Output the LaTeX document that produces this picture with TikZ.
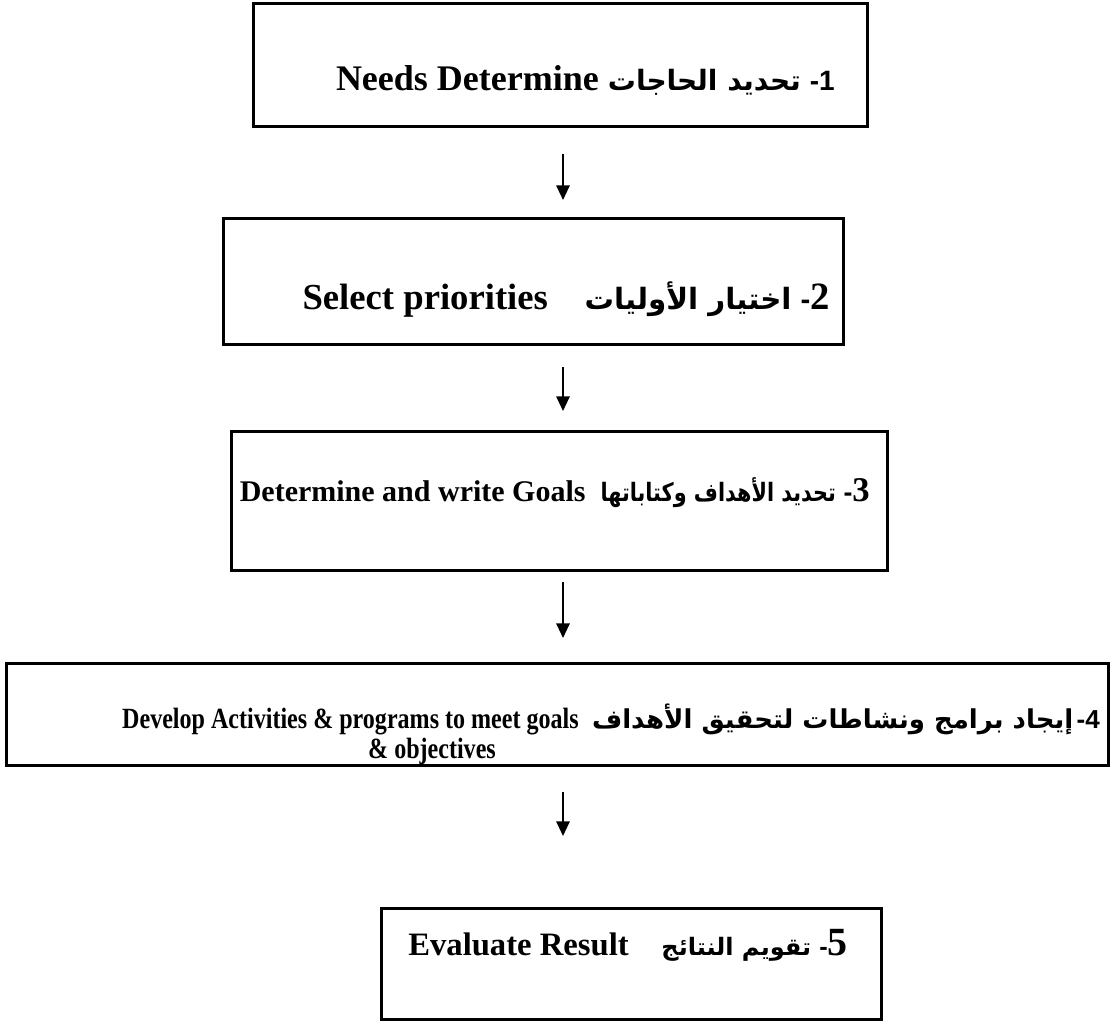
\documentclass[tikz,border=0pt]{standalone}
\usepackage{graphicx}
\usepackage{fontspec}
\setmainfont{Liberation Serif}
\newfontfamily\arabicfont[Script=Arabic]{DejaVu Sans}
\newfontfamily\numfont{Liberation Sans}
\TeXXeTstate=1
\usetikzlibrary{arrows.meta}
\newcommand{\ar}[1]{{\arabicfont\bfseries\beginR #1\endR}}
\newcommand{\fs}[1]{\fontsize{#1}{#1}\selectfont\bfseries}
\newcommand{\narrow}[2]{\scalebox{#1}[1]{#2}}

\begin{document}
\begin{tikzpicture}[x=0.75pt,y=0.75pt,yscale=-1,xscale=1,
  stepbox/.style={draw, line width=2pt, inner sep=0pt, anchor=north west},
  steptext/.style={anchor=east, inner sep=0pt},
  flow/.style={line width=1.5pt, -{Triangle[length=11pt,width=10pt]}}]
\useasboundingbox (0,0) rectangle (1113,1021);

%Shape: Rectangle [step 1]
\node[stepbox, minimum width=614*0.75pt, minimum height=123*0.75pt] (needs) at (252,2) {};
%Shape: Rectangle [step 2]
\node[stepbox, minimum width=620*0.75pt, minimum height=126*0.75pt] (prior) at (222,217) {};
%Shape: Rectangle [step 3]
\node[stepbox, minimum width=656*0.75pt, minimum height=139*0.75pt] (goals) at (230,430) {};
%Shape: Rectangle [step 4]
\node[stepbox, minimum width=1102*0.75pt, minimum height=102*0.75pt] (activ) at (5,662) {};
%Shape: Rectangle [step 5]
\node[stepbox, minimum width=500*0.75pt, minimum height=111*0.75pt] (evalu) at (380,907) {};

% Text Node
\node[steptext] (needstxt) at (835,80) {\fs{27}Needs Determine \ar{\fs{21}تحديد الحاجات} {\numfont\fs{21}-1}};
% Text Node
\node[steptext] (priortxt) at (830,300) {\fs{27.5}Select priorities\quad \ar{\fs{22}اختيار الأوليات} {\numfont\fs{22}-}{\fs{29}2}};
% Text Node
\node[steptext] (goalstxt) at (870,493) {\fs{22.5}Determine and write Goals\enspace \narrow{0.82}{\ar{\fs{19}تحديد الأهداف وكتاباتها}} {\numfont\fs{20}-}{\fs{26}3}};
% Text Node
\node[steptext] (activtxt) at (1100,719) {\narrow{0.82}{\fs{22}Develop Activities \& programs to meet goals}\quad \ar{\fs{19.5}إيجاد برامج ونشاطات لتحقيق الأهداف} {\numfont\fs{19.5}-4}};
\node[inner sep=0pt] (activtxt2) at (432,751) {\narrow{0.82}{\fs{22}\& objectives}};
% Text Node
\node[steptext] (evalutxt) at (848,945) {\fs{24.5}Evaluate Result\quad \ar{\fs{18}تقويم النتائج} {\numfont\fs{19}-}{\fs{30}5}};

%Straight Lines [arrows]
\coordinate (a1top) at (563,154);
\coordinate (a1bot) at (563,200);
\coordinate (a2top) at (563,367);
\coordinate (a2bot) at (563,411);
\coordinate (a3top) at (563,582);
\coordinate (a3bot) at (563,638);
\coordinate (a4top) at (563,792);
\coordinate (a4bot) at (563,836);
\draw[flow] (a1top) -- (a1bot);
\draw[flow] (a2top) -- (a2bot);
\draw[flow] (a3top) -- (a3bot);
\draw[flow] (a4top) -- (a4bot);

\end{tikzpicture}
\end{document}
